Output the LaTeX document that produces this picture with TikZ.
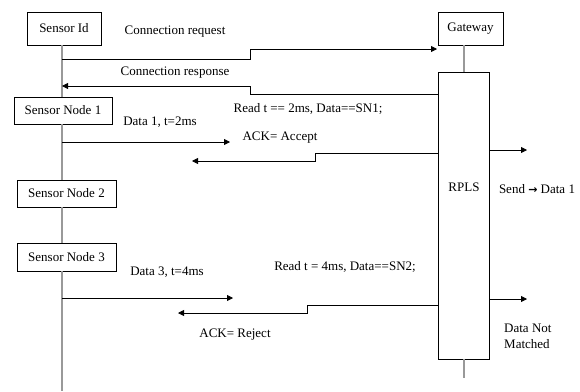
\documentclass[tikz,border=0pt]{standalone}
\usepackage{fontspec}
\setmainfont{Liberation Serif}
\usetikzlibrary{arrows.meta,positioning}

\begin{document}
\begin{tikzpicture}[
    x=1pt, y=-1pt,
    >={Triangle[length=6pt,width=6pt]},
    obj/.style={draw, line width=0.7pt, inner sep=0pt, minimum height=27pt,
                font=\fontsize{13}{15}\selectfont, fill=white},
    lbl/.style={inner sep=0pt, font=\fontsize{13}{16}\selectfont, align=left},
    life/.style={draw=black!40, line width=1.2pt},
    msg/.style={->, line width=0.8pt},
  ]
  \useasboundingbox (0,0) rectangle (580,391);

  % objects
  \node[obj, minimum width=74pt, minimum height=33pt] (sid) at (64,28.5) {Sensor Id};
  \node[obj, minimum width=98pt] (sn1) at (63,110.5) {Sensor Node 1};
  \node[obj, minimum width=99pt] (sn2) at (66.5,193.5) {Sensor Node 2};
  \node[obj, minimum width=99pt, minimum height=28pt] (sn3) at (66.5,257) {Sensor Node 3};
  \node[obj, minimum width=65pt, minimum height=33pt] (gw) at (470.5,28.5) {Gateway};
  \node[obj, minimum width=51pt, minimum height=287pt] (rpls) at (463.5,215.5) {};
  \node[lbl] (rplstxt) at (464,187) {RPLS};

  % lifelines
  \coordinate (sbot) at (62,391);
  \coordinate (gbot) at (464,378);
  \draw[life] (sid.south -| sbot) -- (sn1.north -| sbot);
  \draw[life] (sn1.south -| sbot) -- (sn2.north -| sbot);
  \draw[life] (sn2.south -| sbot) -- (sn3.north -| sbot);
  \draw[life] (sn3.south -| sbot) -- (sbot);
  \draw[life] (gw.south -| gbot) -- (rpls.north -| gbot);
  \draw[life] (rpls.south -| gbot) -- (gbot);

  % message end points
  \coordinate (reqa) at (62,59);   \coordinate (reqb) at (437,49);
  \coordinate (resa) at (438,94);  \coordinate (resb) at (62,86);
  \coordinate (d1a) at (62,142);   \coordinate (d1b) at (230,142);
  \coordinate (acka) at (438,153); \coordinate (ackb) at (192,161);
  \coordinate (d3a) at (62,298);   \coordinate (d3b) at (233,298);
  \coordinate (reja) at (438,305); \coordinate (rejb) at (178,313);
  \coordinate (outa) at (489,150); \coordinate (outb) at (527,150);
  \coordinate (nma) at (489,299);  \coordinate (nmb) at (527,299);

  % messages
  \draw[msg] (reqa) -- (250,59) |- (reqb);
  \draw[msg] (resa) -- (250,94) |- (resb);
  \draw[msg] (d1a) -- (d1b);
  \draw[msg] (acka) -- (315,153) |- (ackb);
  \draw[msg] (d3a) -- (d3b);
  \draw[msg] (reja) -- (307,305) |- (rejb);
  \draw[msg] (outa) -- (outb);
  \draw[msg] (nma) -- (nmb);

  % labels
  \node[lbl] (lreq) at (175,32) {Connection request};
  \node[lbl] (lres) at (175,73) {Connection response};
  \node[lbl] (lread1) at (308,109) {Read t == 2ms, Data==SN1;};
  \node[lbl] (ld1) at (160,122) {Data 1, t=2ms};
  \node[lbl] (lacc) at (280,138) {ACK= Accept};
  \node[lbl] (lsend) at (537,189) {Send {\fontspec{DejaVu Sans}\fontsize{11}{13}\selectfont\bfseries→} Data 1};
  \node[lbl] (ld3) at (167,272) {Data 3, t=4ms};
  \node[lbl] (lread2) at (345,267) {Read t = 4ms, Data==SN2;};
  \node[lbl] (lrej) at (235,335) {ACK= Reject};
  \node[lbl, anchor=west] (lnm) at (504,336) {Data Not\\Matched};
\end{tikzpicture}
\end{document}
